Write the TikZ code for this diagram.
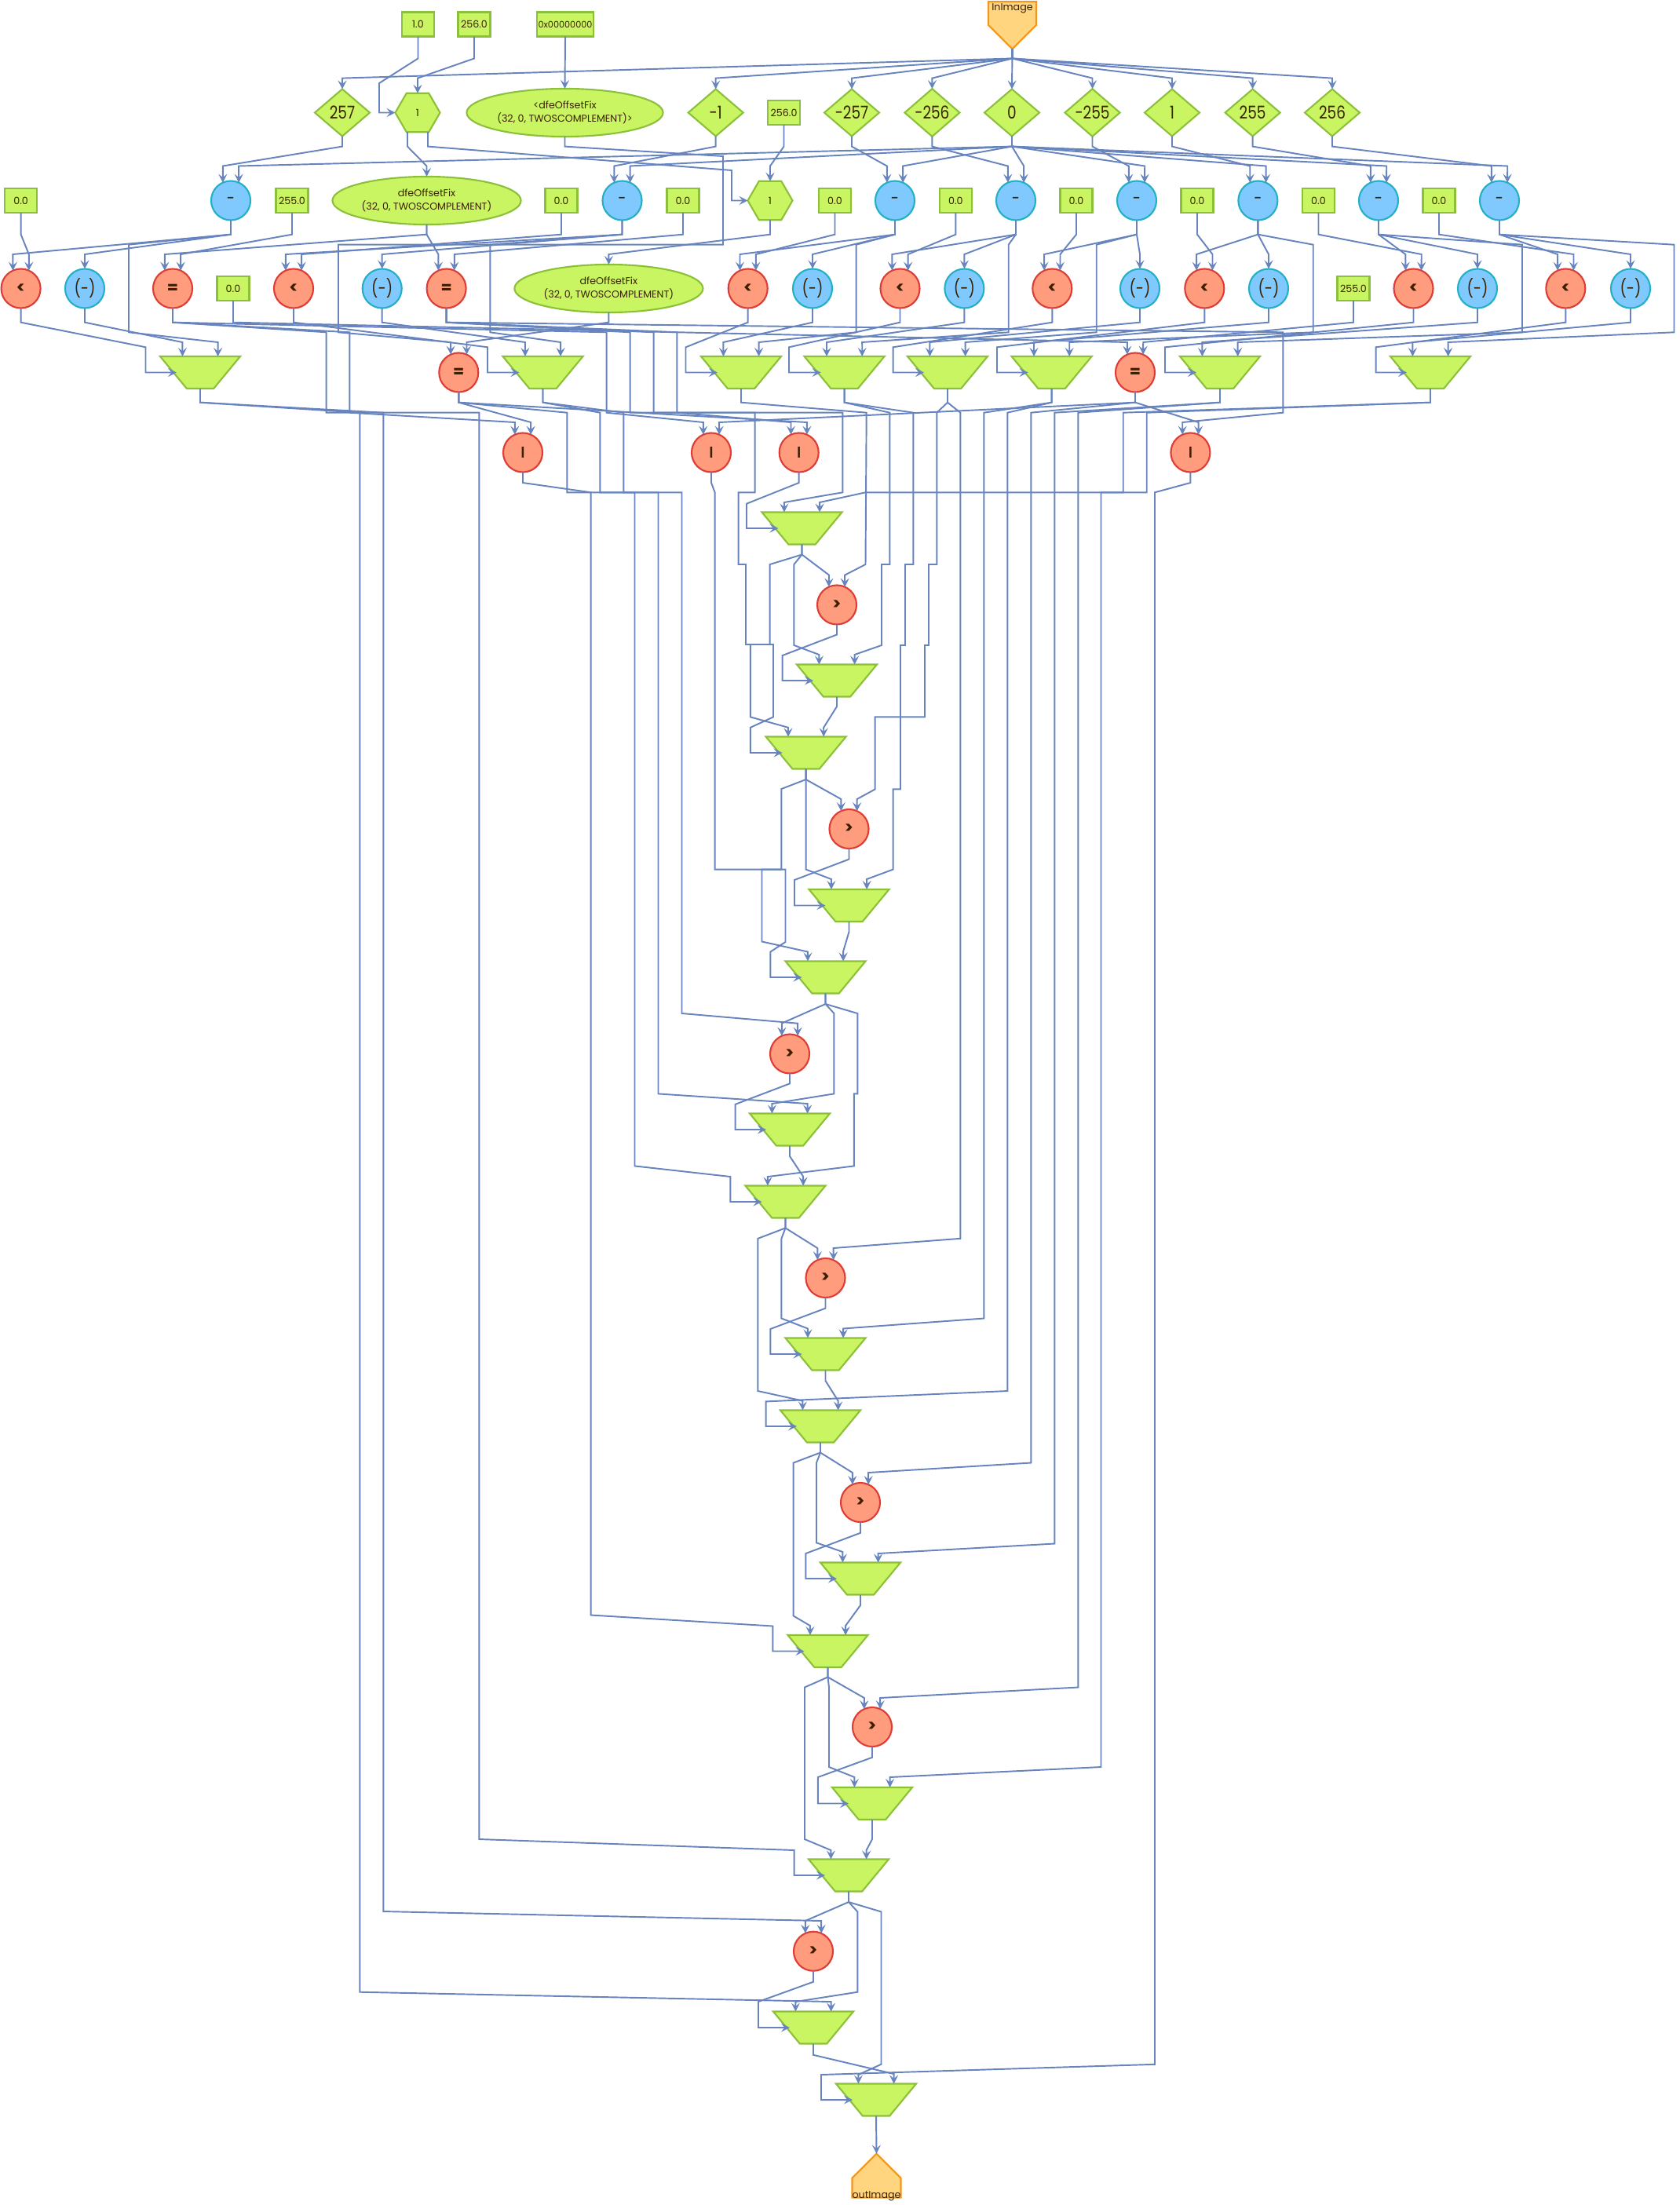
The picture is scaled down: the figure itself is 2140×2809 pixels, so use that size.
\documentclass[tikz,border=0pt]{standalone}
\usepackage{fontspec}
\setmainfont{Poppins}
\newfontfamily\narrowfont[FakeStretch=.82]{Poppins}
\usetikzlibrary{shapes.geometric,shapes.symbols,arrows.meta}
\definecolor{wirecol}{HTML}{6784BF}
\definecolor{inkcol}{HTML}{3A2000}
\definecolor{greenfill}{HTML}{C9F562}
\definecolor{greenline}{HTML}{8CC03A}
\definecolor{redfill}{HTML}{FF9C7E}
\definecolor{redline}{HTML}{DE3C34}
\definecolor{bluefill}{HTML}{7FC9FF}
\definecolor{blueline}{HTML}{22B0C4}
\definecolor{orangefill}{HTML}{FFD580}
\definecolor{orangeline}{HTML}{F2961E}
\begin{document}
\begin{tikzpicture}
[x=.01cm,y=-.01cm,inner sep=0pt,outer sep=0pt,text=inkcol,
small/.style={font=\fontsize{3.6}{4.9}\selectfont},
big/.style={font=\narrowfont\fontsize{6.4}{8}\selectfont},
const/.style={draw=greenline,fill=greenfill,line width=.6pt,minimum width=.41cm,minimum height=.31cm,small},
offset/.style={diamond,draw=greenline,fill=greenfill,line width=.6pt,minimum width=.70cm,minimum height=.60cm,big},
cast/.style={ellipse,draw=greenline,fill=greenfill,line width=.6pt,minimum width=2.4cm,minimum height=.61cm,align=center,small},
hexnode/.style={regular polygon,regular polygon sides=6,draw=greenline,fill=greenfill,line width=.6pt,minimum size=.57cm,small},
subop/.style={circle,draw=blueline,fill=bluefill,line width=.6pt,minimum size=.50cm,big},
cmpop/.style={circle,draw=redline,fill=redfill,line width=.6pt,minimum size=.50cm,font=\bfseries\fontsize{5.8}{8}\selectfont},
orop/.style={circle,draw=redline,fill=redfill,line width=.6pt,minimum size=.50cm,font=\bfseries\fontsize{4.2}{5}\selectfont},
muxnode/.style={trapezium,inner sep=.5pt,trapezium angle=45.3,trapezium stretches=true,shape border rotate=180,draw=greenline,fill=greenfill,line width=.6pt,minimum width=1.02cm,minimum height=.41cm},
portnode/.style={signal,signal from=nowhere,signal pointer angle=90,draw=orangeline,fill=orangefill,line width=.6pt,minimum width=.61cm,small},
link/.style={draw=wirecol,line width=.55pt,-{Stealth[length=1.1mm,width=1.1mm,inset=.45mm]}}]
\useasboundingbox (0,0) rectangle (2140,2809);

\node[const] (kone) at (532.5,31) {1.0};
\node[const] (kmax) at (604,31) {256.0};
\node[const,minimum width=.72cm,font=\fontsize{3.2}{4}\selectfont] (khex) at (720,31) {0x00000000};
\node[portnode,signal to=south,minimum height=.56cm] (inimg) at (1289.5,17) {\smash{\raisebox{.03cm}{InImage}}};

\node[offset] (d257) at (436,143.5) {257};
\node[hexnode] (hexa) at (532,143.5) {1};
\node[cast,minimum width=2.5cm] (fixa) at (719.5,143.5) {<dfeOffsetFix\\(32, 0, TWOSCOMPLEMENT)>};
\node[offset] (dn1) at (911.7,143.5) {-1};
\node[const] (kb) at (998.5,143.5) {256.0};
\node[offset] (dn257) at (1085,143.5) {-257};
\node[offset] (dn256) at (1187.4,143.5) {-256};
\node[offset] (d0) at (1289,143.5) {0};
\node[offset] (dn255) at (1391.5,143.5) {-255};
\node[offset] (dp1) at (1493,143.5) {1};
\node[offset] (d255) at (1595.6,143.5) {255};
\node[offset] (d256) at (1697,143.5) {256};

\node[const] (k01) at (26.6,255.5) {0.0};
\node[subop] (sub1) at (294,255.5) {-};
\node[const] (k255a) at (372,255.5) {255.0};
\node[cast] (fixb) at (543.5,255.5) {dfeOffsetFix\\(32, 0, TWOSCOMPLEMENT)};
\node[const] (k02) at (715,255.5) {0.0};
\node[subop] (sub2) at (792.5,255.5) {-};
\node[const] (k03) at (870,255.5) {0.0};
\node[hexnode] (hexb) at (981,255.5) {1};
\node[const] (k04) at (1063.5,255.5) {0.0};
\node[subop] (sub3) at (1140,255.5) {-};
\node[const] (k05) at (1217.4,255.5) {0.0};
\node[subop] (sub4) at (1294,255.5) {-};
\node[const] (k06) at (1371,255.5) {0.0};
\node[subop] (sub5) at (1448,255.5) {-};
\node[const] (k07) at (1525,255.5) {0.0};
\node[subop] (sub6) at (1602.4,255.5) {-};
\node[const] (k08) at (1679.5,255.5) {0.0};
\node[subop] (sub7) at (1756,255.5) {-};
\node[const] (k09) at (1833,255.5) {0.0};
\node[subop] (sub8) at (1910,255.5) {-};

\node[cmpop] (lt1) at (26.6,367.5) {<};
\node[subop] (neg1) at (108,367.5) {(-)};
\node[cmpop] (eq1) at (220,367.5) {=};
\node[const] (k10) at (297,367.5) {0.0};
\node[cmpop] (lt2) at (374,367.5) {<};
\node[subop] (neg2) at (486.7,367.5) {(-)};
\node[cmpop] (eq2) at (568.6,367.5) {=};
\node[cast] (fixc) at (775.4,367.5) {dfeOffsetFix\\(32, 0, TWOSCOMPLEMENT)};
\node[cmpop] (lt3) at (952.7,367.5) {<};
\node[subop] (neg3) at (1035,367.5) {(-)};
\node[cmpop] (lt4) at (1146.5,367.5) {<};
\node[subop] (neg4) at (1228.4,367.5) {(-)};
\node[cmpop] (lt5) at (1340.3,367.5) {<};
\node[subop] (neg5) at (1452,367.5) {(-)};
\node[cmpop] (lt6) at (1534.3,367.5) {<};
\node[subop] (neg6) at (1616,367.5) {(-)};
\node[const] (k255b) at (1724,367.5) {255.0};
\node[cmpop] (lt7) at (1800.5,367.5) {<};
\node[subop] (neg7) at (1882,367.5) {(-)};
\node[cmpop] (lt8) at (1994.3,367.5) {<};
\node[subop] (neg8) at (2077,367.5) {(-)};

\node[muxnode] (clamp1) at (255,474.5) {};
\node[cmpop] (eq3) at (584.3,474.5) {=};
\node[muxnode] (clamp2) at (691.5,474.5) {};
\node[muxnode] (clamp3) at (944,474.5) {};
\node[muxnode] (clamp4) at (1075.6,474.5) {};
\node[muxnode] (clamp5) at (1207,474.5) {};
\node[muxnode] (clamp6) at (1339.6,474.5) {};
\node[cmpop] (eq4) at (1446,474.5) {=};
\node[muxnode] (clamp7) at (1554,474.5) {};
\node[muxnode] (clamp8) at (1822,474.5) {};

\node[orop] (or1) at (666,576.5) {|};
\node[orop] (or2) at (906,576.5) {|};
\node[orop] (or3) at (1017.7,576.5) {|};
\node[orop] (or4) at (1516.4,576.5) {|};

\node[muxnode] (mux1) at (1021.5,673) {};
\node[cmpop] (gt1) at (1066,770.5) {>};
\node[muxnode] (mux2) at (1066,867) {};
\node[muxnode] (mux3) at (1026.6,959) {};
\node[cmpop] (gt2) at (1081.5,1056) {>};
\node[muxnode] (mux4) at (1081.5,1153.5) {};
\node[muxnode] (mux5) at (1051.5,1245) {};
\node[cmpop] (gt3) at (1006,1342.5) {>};
\node[muxnode] (mux6) at (1006,1439) {};
\node[muxnode] (mux7) at (1000.5,1531) {};
\node[cmpop] (gt4) at (1051.5,1628) {>};
\node[muxnode] (mux8) at (1051.5,1725) {};
\node[muxnode] (mux9) at (1045,1817) {};
\node[cmpop] (gt5) at (1096,1914) {>};
\node[muxnode] (mux10) at (1096,2011) {};
\node[muxnode] (mux11) at (1054.5,2103.5) {};
\node[cmpop] (gt6) at (1111,2200) {>};
\node[muxnode] (mux12) at (1111,2297.5) {};
\node[muxnode] (mux13) at (1081,2389) {};
\node[cmpop] (gt7) at (1036,2485.7) {>};
\node[muxnode] (mux14) at (1036,2583) {};
\node[muxnode] (mux15) at (1116,2675) {};
\node[portnode,signal to=north,minimum height=.56cm] (outimg) at (1116.5,2787) {\smash{\raisebox{-.13cm}{outImage}}};

% constants and input down to the first row
\draw[link] (kone.south) -- (532.5,74.5) -- (483,106) -- (483,143.5) -- (hexa.west);
\draw[link] (kmax.south) -- (604,74.5) -- (532,99.6) -- (hexa.north);
\draw[link] (khex.south) -- (fixa.north);
\draw[link] (inimg.south) -- (1289.5,74.5) -- (436,99.6) -- (d257.north);
\draw[link] (inimg.south) -- (1289.5,74.5) -- (911.7,99.6) -- (dn1.north);
\draw[link] (inimg.south) -- (1289.5,74.5) -- (1085,99.6) -- (dn257.north);
\draw[link] (inimg.south) -- (1289.5,74.5) -- (1187.4,99.6) -- (dn256.north);
\draw[link] (inimg.south) -- (d0.north);
\draw[link] (inimg.south) -- (1289.5,74.5) -- (1391.5,99.6) -- (dn255.north);
\draw[link] (inimg.south) -- (1289.5,74.5) -- (1493,99.6) -- (dp1.north);
\draw[link] (inimg.south) -- (1289.5,74.5) -- (1595.6,99.6) -- (d255.north);
\draw[link] (inimg.south) -- (1289.5,74.5) -- (1697,99.6) -- (d256.north);

% offsets into the subtractions
\draw[link] (d257.south) -- (436,186.6) -- (283.8,211.5) -- (sub1.114);
\draw[link] (dn1.south) -- (911.7,186.6) -- (782.3,211.5) -- (sub2.114);
\draw[link] (dn257.south) -- (1085,186.6) -- (1129.8,211.5) -- (sub3.114);
\draw[link] (dn256.south) -- (1187.4,186.6) -- (1283.8,211.5) -- (sub4.114);
\draw[link] (dn255.south) -- (1391.5,186.6) -- (1437.8,211.5) -- (sub5.114);
\draw[link] (dp1.south) -- (1493,186.6) -- (1592.2,211.5) -- (sub6.114);
\draw[link] (d255.south) -- (1595.6,186.6) -- (1745.8,211.5) -- (sub7.114);
\draw[link] (d256.south) -- (1697,186.6) -- (1899.8,211.5) -- (sub8.114);
\draw[link] (d0.south) -- (1289,186.6) -- (304.2,211.5) -- (sub1.66);
\draw[link] (d0.south) -- (1289,186.6) -- (802.7,211.5) -- (sub2.66);
\draw[link] (d0.south) -- (1289,186.6) -- (1150.2,211.5) -- (sub3.66);
\draw[link] (d0.south) -- (1289,186.6) -- (1304.2,211.5) -- (sub4.66);
\draw[link] (d0.south) -- (1289,186.6) -- (1458.2,211.5) -- (sub5.66);
\draw[link] (d0.south) -- (1289,186.6) -- (1612.6,211.5) -- (sub6.66);
\draw[link] (d0.south) -- (1289,186.6) -- (1766.2,211.5) -- (sub7.66);
\draw[link] (d0.south) -- (1289,186.6) -- (1920.2,211.5) -- (sub8.66);

% casts
\draw[link] ([xshift=-.13cm]hexa.south) -- (519,186.6) -- (543.5,211.5) -- (fixb.north);
\draw[link] ([xshift=.13cm]hexa.south) -- (545,186.6) -- (932,217) -- (932,255.5) -- (hexb.west);
\draw[link] (kb.south) -- (998.5,186.6) -- (981,211.5) -- (hexb.north);
\draw[link] (hexb.south) -- (981,298.7) -- (775.4,324) -- (fixc.north);
\draw[link] (fixa.south) -- (719.5,186.6) -- (921,199) -- (921,311.7) -- (431,311.7) -- (431,423.3) -- (574.1,436) -- (eq3.114);
\draw[link] (fixc.south) -- (775.4,410.7) -- (594.5,436) -- (eq3.66);

% first row of compares
\draw[link] (sub1.south) -- (294,298.7) -- (16.4,324) -- (lt1.114);
\draw[link] (k01.south) -- (26.6,298.7) -- (36.8,324) -- (lt1.66);
\draw[link] (sub1.south) -- (294,298.7) -- (108,324) -- (neg1.north);
\draw[link] (k255a.south) -- (372,298.7) -- (230.2,324) -- (eq1.66);
\draw[link] (fixb.south) -- (543.5,298.7) -- (209.8,324) -- (eq1.114);
\draw[link] (fixb.south) -- (543.5,298.7) -- (558.4,324) -- (eq2.114);
\draw[link] (k03.south) -- (870,298.7) -- (578.8,324) -- (eq2.66);
\draw[link] (sub2.south) -- (792.5,298.7) -- (363.8,324) -- (lt2.114);
\draw[link] (k02.south) -- (715,298.7) -- (384.2,324) -- (lt2.66);
\draw[link] (sub2.south) -- (792.5,298.7) -- (486.7,324) -- (neg2.north);
\draw[link] (sub3.south) -- (1140,298.7) -- (942.5,324) -- (lt3.114);
\draw[link] (k04.south) -- (1063.5,298.7) -- (962.9,324) -- (lt3.66);
\draw[link] (sub3.south) -- (1140,298.7) -- (1035,324) -- (neg3.north);
\draw[link] (sub4.south) -- (1294,298.7) -- (1136.3,324) -- (lt4.114);
\draw[link] (k05.south) -- (1217.4,298.7) -- (1156.7,324) -- (lt4.66);
\draw[link] (sub4.south) -- (1294,298.7) -- (1228.4,324) -- (neg4.north);
\draw[link] (sub5.south) -- (1448,298.7) -- (1330.1,324) -- (lt5.114);
\draw[link] (k06.south) -- (1371,298.7) -- (1350.5,324) -- (lt5.66);
\draw[link] (sub5.south) -- (1448,298.7) -- (1452,324) -- (neg5.north);
\draw[link] (sub6.south) -- (1602.4,298.7) -- (1524.1,324) -- (lt6.114);
\draw[link] (k07.south) -- (1525,298.7) -- (1544.5,324) -- (lt6.66);
\draw[link] (sub6.south) -- (1602.4,298.7) -- (1616,324) -- (neg6.north);
\draw[link] (sub7.south) -- (1756,298.7) -- (1790.3,324) -- (lt7.114);
\draw[link] (k08.south) -- (1679.5,298.7) -- (1810.7,324) -- (lt7.66);
\draw[link] (sub7.south) -- (1756,298.7) -- (1882,324) -- (neg7.north);
\draw[link] (sub8.south) -- (1910,298.7) -- (1984.1,324) -- (lt8.114);
\draw[link] (k09.south) -- (1833,298.7) -- (2004.5,324) -- (lt8.66);
\draw[link] (sub8.south) -- (1910,298.7) -- (2077,324) -- (neg8.north);

% clamps
\draw[link] (lt1.south) -- (26.6,410.7) -- (185.5,442.3) -- (185.5,474.5) -- ([xshift=-.3cm]clamp1.center);
\draw[link] (neg1.south) -- (108,410.7) -- (232.4,436) -- ([xshift=-.226cm]clamp1.north);
\draw[link] (sub1.south) -- (294,298.7) -- (164,311.7) -- (164,423.3) -- (277.6,436) -- ([xshift=.226cm]clamp1.north);
\draw[link] (lt2.south) -- (374,410.7) -- (621,442.3) -- (621,474.5) -- ([xshift=-.3cm]clamp2.center);
\draw[link] (neg2.south) -- (486.7,410.7) -- (668.9,436) -- ([xshift=-.226cm]clamp2.north);
\draw[link] (sub2.south) -- (792.5,298.7) -- (624.3,311.7) -- (624.3,423.3) -- (714.1,436) -- ([xshift=.226cm]clamp2.north);
\draw[link] (lt3.south) -- (952.7,410.7) -- (873.5,442.3) -- (873.5,474.5) -- ([xshift=-.3cm]clamp3.center);
\draw[link] (neg3.south) -- (1035,410.7) -- (921.4,436) -- ([xshift=-.226cm]clamp3.north);
\draw[link] (sub3.south) -- (1140,298.7) -- (1090.7,311.7) -- (1090.7,423.3) -- (966.6,436) -- ([xshift=.226cm]clamp3.north);
\draw[link] (lt4.south) -- (1146.5,410.7) -- (1005,442.3) -- (1005,474.5) -- ([xshift=-.3cm]clamp4.center);
\draw[link] (neg4.south) -- (1228.4,410.7) -- (1053,436) -- ([xshift=-.226cm]clamp4.north);
\draw[link] (sub4.south) -- (1294,298.7) -- (1284.7,311.7) -- (1284.7,423.3) -- (1098.2,436) -- ([xshift=.226cm]clamp4.north);
\draw[link] (lt5.south) -- (1340.3,410.7) -- (1137.6,442.3) -- (1137.6,474.5) -- ([xshift=-.3cm]clamp5.center);
\draw[link] (neg5.south) -- (1452,410.7) -- (1184.4,436) -- ([xshift=-.226cm]clamp5.north);
\draw[link] (sub5.south) -- (1448,298.7) -- (1396.7,311.7) -- (1396.7,423.3) -- (1229.6,436) -- ([xshift=.226cm]clamp5.north);
\draw[link] (lt6.south) -- (1534.3,410.7) -- (1270,442.3) -- (1270,474.5) -- ([xshift=-.3cm]clamp6.center);
\draw[link] (neg6.south) -- (1616,410.7) -- (1317,436) -- ([xshift=-.226cm]clamp6.north);
\draw[link] (sub6.south) -- (1602.4,298.7) -- (1672.7,311.7) -- (1672.7,423.3) -- (1362.2,436) -- ([xshift=.226cm]clamp6.north);
\draw[link] (lt7.south) -- (1800.5,410.7) -- (1484,442.3) -- (1484,474.5) -- ([xshift=-.3cm]clamp7.center);
\draw[link] (neg7.south) -- (1882,410.7) -- (1531.4,436) -- ([xshift=-.226cm]clamp7.north);
\draw[link] (sub7.south) -- (1756,298.7) -- (1939,311.7) -- (1939,423.3) -- (1576.6,436) -- ([xshift=.226cm]clamp7.north);
\draw[link] (lt8.south) -- (1994.3,410.7) -- (1752.6,442.3) -- (1752.6,474.5) -- ([xshift=-.3cm]clamp8.center);
\draw[link] (neg8.south) -- (2077,410.7) -- (1799.4,436) -- ([xshift=-.226cm]clamp8.north);
\draw[link] (sub8.south) -- (1910,298.7) -- (2132.5,311.7) -- (2132.5,423.3) -- (1844.6,436) -- ([xshift=.226cm]clamp8.north);

% second row of compares
\draw[link] (k10.south) -- (297,410.7) -- (1435.8,436) -- (eq4.114);
\draw[link] (k255b.south) -- (1724,410.7) -- (1456.2,436) -- (eq4.66);
\draw[link] (eq1.south) -- (220,410.7) -- (445.3,423.3) -- (445.3,525.7) -- (655.8,538) -- (or1.114);
\draw[link] (eq3.south) -- (584.3,512.7) -- (676.2,538) -- (or1.66);
\draw[link] (eq1.south) -- (220,410.7) -- (772.7,423.3) -- (772.7,525.7) -- (895.8,538) -- (or2.114);
\draw[link] (eq4.south) -- (1446,512.7) -- (916.2,538) -- (or2.66);
\draw[link] (eq2.south) -- (568.6,410.7) -- (862.3,423.3) -- (862.3,525.7) -- (1007.5,538) -- (or3.114);
\draw[link] (eq3.south) -- (584.3,512.7) -- (1027.9,538) -- (or3.66);
\draw[link] (eq2.south) -- (568.6,410.7) -- (1634.3,423.3) -- (1634.3,525.7) -- (1506.2,538) -- (or4.114);
\draw[link] (eq4.south) -- (1446,512.7) -- (1526.6,538) -- (or4.66);

% first stage
\draw[link] (or3.south) -- (1017.7,615) -- (951,641.7) -- (951,673) -- ([xshift=-.3cm]mux1.center);
\draw[link] (eq2.south) -- (568.6,410.7) -- (832.7,423.3) -- (832.7,525.7) -- (1073.3,525.7) -- (1073.3,627.3) -- (998.9,640) -- ([xshift=-.226cm]mux1.north);
\draw[link] (clamp8.south) -- (1822,512.7) -- (1430.7,525.7) -- (1430.7,627.3) -- (1102.5,627.3) -- (1044.1,640) -- ([xshift=.226cm]mux1.north);
\draw[link] (mux1.south) -- (1021.5,706.5) -- (1056,732.6) -- (gt1.114);
\draw[link] (clamp3.south) -- (944,512.7) -- (1103.7,525.7) -- (1102.5,719) -- (1076.2,732.6) -- (gt1.66);
\draw[link] (gt1.south) -- (1066,808.5) -- (996.7,835) -- (996.7,867) -- ([xshift=-.3cm]mux2.center);
\draw[link] (mux1.south) -- (1021.5,706.5) -- (1011.4,719) -- (1011.4,822) -- (1043.4,834) -- ([xshift=-.226cm]mux2.north);
\draw[link] (clamp4.south) -- (1075.6,512.7) -- (1133.3,525.7) -- (1133.3,719) -- (1123,719) -- (1123,822) -- (1088.6,834) -- ([xshift=.226cm]mux2.north);
\draw[link] (eq2.south) -- (568.6,410.7) -- (802.7,423.3) -- (802.7,525.7) -- (961.7,525.7) -- (961.7,627.3) -- (940.6,627.3) -- (940.6,719) -- (950,719) -- (950,821) -- (985,821) -- (985,913.4) -- (955.9,926.8) -- (955.9,959) -- ([xshift=-.3cm]mux3.center);
\draw[link] (mux1.south) -- (1021.5,706.5) -- (980.7,719) -- (980.7,821) -- (955.9,821) -- (955.9,913.4) -- (1004,926.8) -- ([xshift=-.226cm]mux3.north);
\draw[link] (mux2.south) -- (1066,900) -- (1049.2,926.8) -- ([xshift=.226cm]mux3.north);

% second stage
\draw[link] (mux3.south) -- (1026.6,993) -- (1071.3,1018) -- (gt2.114);
\draw[link] (clamp5.south) -- (1207,512.7) -- (1193.3,525.7) -- (1193.3,719) -- (1183,719) -- (1183,822) -- (1178,822) -- (1178,913.4) -- (1114.7,913.4) -- (1114.7,1005.4) -- (1091.7,1018) -- (gt2.66);
\draw[link] (gt2.south) -- (1081.5,1094.6) -- (1012,1121) -- (1012,1153.5) -- ([xshift=-.3cm]mux4.center);
\draw[link] (mux3.south) -- (1026.6,993) -- (1026.6,1107.6) -- (1058.9,1120) -- ([xshift=-.226cm]mux4.north);
\draw[link] (clamp4.south) -- (1075.6,512.7) -- (1163.3,525.7) -- (1163.3,719) -- (1153,719) -- (1153,822) -- (1147,822) -- (1147,1005.4) -- (1137.6,1005.4) -- (1137.6,1107.6) -- (1104.1,1120) -- ([xshift=.226cm]mux4.north);
\draw[link] (or2.south) -- (906,615) -- (910.6,627.3) -- (910.6,1107.6) -- (1000.5,1107.6) -- (1000.5,1200) -- (981.4,1212.5) -- (981.4,1245) -- ([xshift=-.3cm]mux5.center);
\draw[link] (mux3.south) -- (1026.6,993) -- (995.4,1005) -- (995.4,1107.6) -- (970.5,1107.6) -- (970.5,1199.5) -- (1028.9,1212.5) -- ([xshift=-.226cm]mux5.north);
\draw[link] (mux4.south) -- (1081.5,1187) -- (1074.1,1212) -- ([xshift=.226cm]mux5.north);

% third stage
\draw[link] (mux5.south) -- (1051.5,1279) -- (996,1303.5) -- (gt3.114);
\draw[link] (clamp2.south) -- (691.5,512.7) -- (794.3,525.7) -- (794.3,627.3) -- (868.5,627.3) -- (868.5,1291) -- (1016.2,1303.7) -- (gt3.66);
\draw[link] (gt3.south) -- (1006,1380.4) -- (936.7,1406.8) -- (936.7,1439) -- ([xshift=-.3cm]mux6.center);
\draw[link] (mux5.south) -- (1051.5,1279) -- (1062.4,1291) -- (1062.4,1393.4) -- (983.4,1406) -- ([xshift=-.226cm]mux6.north);
\draw[link] (clamp2.south) -- (691.5,512.7) -- (764.3,525.7) -- (764.3,627.3) -- (838.5,627.3) -- (838.5,1393.4) -- (1028.6,1406) -- ([xshift=.226cm]mux6.north);
\draw[link] (eq3.south) -- (584.3,512.7) -- (722.3,525.7) -- (722.3,627.3) -- (808.5,627.3) -- (808.5,1485.4) -- (930.4,1499) -- (930.4,1531) -- ([xshift=-.3cm]mux7.center);
\draw[link] (mux5.south) -- (1051.5,1279) -- (1092.3,1291) -- (1092.3,1393.4) -- (1087.9,1393.4) -- (1087.9,1485.4) -- (977.9,1499) -- ([xshift=-.226cm]mux7.north);
\draw[link] (mux6.south) -- (1006,1472.9) -- (1023.1,1498.8) -- ([xshift=.226cm]mux7.north);

% fourth stage
\draw[link] (mux7.south) -- (1000.5,1564.4) -- (1041.3,1590) -- (gt4.114);
\draw[link] (clamp5.south) -- (1207,512.7) -- (1223.3,525.7) -- (1223.3,1577.8) -- (1061.7,1590) -- (gt4.66);
\draw[link] (gt4.south) -- (1051.5,1666.6) -- (981.4,1693) -- (981.4,1725) -- ([xshift=-.3cm]mux8.center);
\draw[link] (mux7.south) -- (1000.5,1564.4) -- (995.4,1577.8) -- (995.4,1679.5) -- (1028.9,1692.5) -- ([xshift=-.226cm]mux8.north);
\draw[link] (clamp6.south) -- (1339.6,512.7) -- (1253.3,525.7) -- (1253.3,1679.5) -- (1074.1,1692.5) -- ([xshift=.226cm]mux8.north);
\draw[link] (clamp6.south) -- (1339.6,512.7) -- (1283.3,525.7) -- (1283.3,1772) -- (975.6,1785.4) -- (975.6,1817) -- ([xshift=-.3cm]mux9.center);
\draw[link] (mux7.south) -- (1000.5,1564.4) -- (965.4,1577.8) -- (965.4,1772) -- (1022.4,1784.5) -- ([xshift=-.226cm]mux9.north);
\draw[link] (mux8.south) -- (1051.5,1759) -- (1067.6,1784.5) -- ([xshift=.226cm]mux9.north);

% fifth stage
\draw[link] (mux9.south) -- (1045,1850.5) -- (1085.8,1876) -- (gt5.114);
\draw[link] (eq4.south) -- (1446,512.7) -- (1313.3,525.7) -- (1313.3,1863.5) -- (1106.2,1876) -- (gt5.66);
\draw[link] (gt5.south) -- (1096,1952.8) -- (1026.4,1979) -- (1026.4,2011) -- ([xshift=-.3cm]mux10.center);
\draw[link] (mux9.south) -- (1045,1850.5) -- (1040,1863.5) -- (1040,1965.3) -- (1073.4,1977) -- ([xshift=-.226cm]mux10.north);
\draw[link] (clamp7.south) -- (1554,512.7) -- (1343.3,525.7) -- (1343.3,1966.5) -- (1118.6,1979) -- ([xshift=.226cm]mux10.north);
\draw[link] (or1.south) -- (666,615) -- (752.7,627.3) -- (752.7,2057.5) -- (984.4,2071.5) -- (984.4,2103.5) -- ([xshift=-.3cm]mux11.center);
\draw[link] (mux9.south) -- (1045,1850.5) -- (1010.7,1863.5) -- (1010.7,2058.5) -- (1031.9,2071) -- ([xshift=-.226cm]mux11.north);
\draw[link] (mux10.south) -- (1096,2045) -- (1077.1,2071) -- ([xshift=.226cm]mux11.north);

% sixth stage
\draw[link] (mux11.south) -- (1054.5,2136.5) -- (1100.8,2163) -- (gt6.114);
\draw[link] (clamp7.south) -- (1554,512.7) -- (1373.3,525.7) -- (1373.3,2149.5) -- (1121.2,2163) -- (gt6.66);
\draw[link] (gt6.south) -- (1111,2238.8) -- (1041.9,2264) -- (1041.9,2297.5) -- ([xshift=-.3cm]mux12.center);
\draw[link] (mux11.south) -- (1054.5,2136.5) -- (1056,2149.5) -- (1056,2251) -- (1088.4,2264) -- ([xshift=-.226cm]mux12.north);
\draw[link] (clamp8.south) -- (1822,512.7) -- (1460.7,525.7) -- (1460.7,627.3) -- (1402.5,627.3) -- (1402.5,2251) -- (1133.6,2264) -- ([xshift=.226cm]mux12.north);
\draw[link] (eq1.south) -- (220,410.7) -- (415.7,423.3) -- (415.7,525.7) -- (610.3,525.7) -- (610.3,2343) -- (1011.7,2357) -- (1011.7,2389) -- ([xshift=-.3cm]mux13.center);
\draw[link] (mux11.south) -- (1054.5,2136.5) -- (1025,2149.5) -- (1025,2343) -- (1058.4,2357) -- ([xshift=-.226cm]mux13.north);
\draw[link] (mux12.south) -- (1111,2343) -- (1103.6,2357) -- ([xshift=.226cm]mux13.north);

% last stage
\draw[link] (mux13.south) -- (1081,2423) -- (1025.8,2447) -- (gt7.114);
\draw[link] (clamp1.south) -- (255,512.7) -- (488.3,525.7) -- (488.3,2435) -- (1046.2,2447) -- (gt7.66);
\draw[link] (gt7.south) -- (1036,2524.7) -- (966,2550) -- (966,2583) -- ([xshift=-.3cm]mux14.center);
\draw[link] (mux13.south) -- (1081,2423) -- (1092.4,2435.4) -- (1092.4,2537.7) -- (1013.4,2550) -- ([xshift=-.226cm]mux14.north);
\draw[link] (clamp1.south) -- (255,512.7) -- (458.3,525.7) -- (458.3,2537.7) -- (1058.6,2550) -- ([xshift=.226cm]mux14.north);
\draw[link] (or4.south) -- (1516.4,615) -- (1471,627.3) -- (1471,2629.8) -- (1046,2643) -- (1046,2675) -- ([xshift=-.3cm]mux15.center);
\draw[link] (mux13.south) -- (1081,2423) -- (1122.5,2435.4) -- (1122.5,2629.7) -- (1093.4,2643) -- ([xshift=-.226cm]mux15.north);
\draw[link] (mux14.south) -- (1036,2617.8) -- (1138.6,2642) -- ([xshift=.226cm]mux15.north);
\draw[link] (mux15.south) -- (outimg.north);
\end{tikzpicture}
\end{document}
